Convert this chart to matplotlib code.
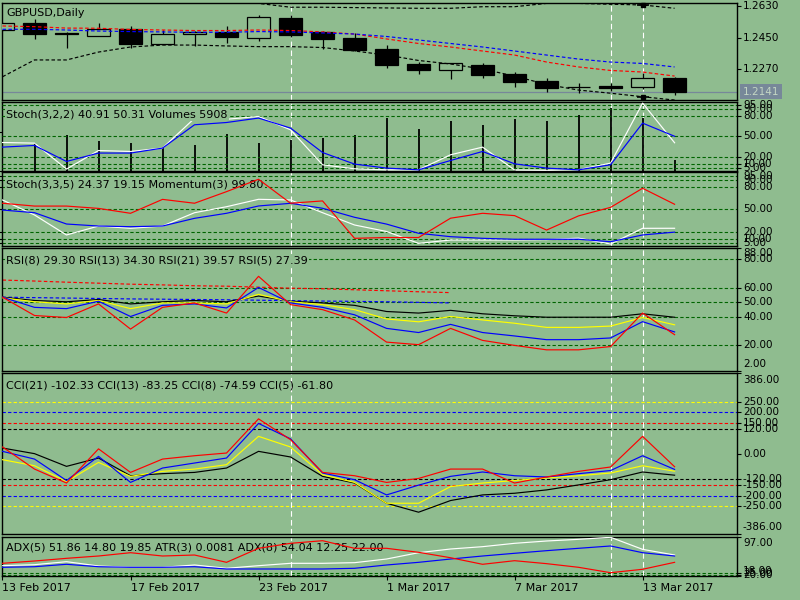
import numpy as np
import matplotlib
matplotlib.use('Agg')
import matplotlib.pyplot as plt

BG = '#8fbc8f'
LVL = '#006400'
GREY = '#778899'

# ---------------- data ----------------
date_idx = [0, 4, 8, 12, 16, 20]
date_labels = ['13 Feb 2017', '17 Feb 2017', '23 Feb 2017', '1 Mar 2017', '7 Mar 2017', '13 Mar 2017']
marked_bars = [9, 19, 20]
fractal_bar = 20

opens  = [1.2493, 1.2535, 1.2478, 1.2460, 1.2499, 1.2411, 1.2468, 1.2480, 1.2449, 1.2560, 1.2481,
          1.2449, 1.2384, 1.2299, 1.2265, 1.2291, 1.2242, 1.2203, 1.2166, 1.2173, 1.2169, 1.2219]
highs  = [1.2540, 1.2556, 1.2480, 1.2531, 1.2516, 1.2493, 1.2489, 1.2516, 1.2579, 1.2579, 1.2489,
          1.2474, 1.2407, 1.2312, 1.2306, 1.2303, 1.2255, 1.2221, 1.2189, 1.2189, 1.2249, 1.2226]
lows   = [1.2485, 1.2443, 1.2388, 1.2460, 1.2388, 1.2411, 1.2402, 1.2420, 1.2432, 1.2455, 1.2383,
          1.2373, 1.2274, 1.2242, 1.2213, 1.2219, 1.2169, 1.2137, 1.2132, 1.2145, 1.2154, 1.2122]
closes = [1.2535, 1.2472, 1.2468, 1.2497, 1.2415, 1.2470, 1.2483, 1.2451, 1.2565, 1.2466, 1.2443,
          1.2379, 1.2293, 1.2265, 1.2304, 1.2238, 1.2198, 1.2163, 1.2166, 1.2163, 1.2217, 1.2141]

band_upper = [1.2680, 1.2675, 1.2670, 1.2665, 1.2655, 1.2645, 1.2645, 1.2645, 1.2645, 1.2623, 1.2623,
              1.2621, 1.2619, 1.2617, 1.2617, 1.2626, 1.2626, 1.2645, 1.2645, 1.2640, 1.2636, 1.2617]
band_lower = [1.2226, 1.2322, 1.2322, 1.2367, 1.2396, 1.2407, 1.2407, 1.2402, 1.2398, 1.2398, 1.2393,
              1.2373, 1.2350, 1.2319, 1.2299, 1.2270, 1.2230, 1.2182, 1.2150, 1.2132, 1.2112, 1.2093]
ma_red  = [1.2516, 1.2512, 1.2504, 1.2503, 1.2496, 1.2493, 1.2490, 1.2490, 1.2493, 1.2490, 1.2482,
           1.2470, 1.2442, 1.2416, 1.2396, 1.2373, 1.2350, 1.2310, 1.2282, 1.2262, 1.2253, 1.2230]
ma_blue = [1.2497, 1.2497, 1.2493, 1.2487, 1.2484, 1.2482, 1.2480, 1.2480, 1.2484, 1.2482, 1.2476,
           1.2470, 1.2456, 1.2436, 1.2416, 1.2396, 1.2373, 1.2350, 1.2327, 1.2310, 1.2302, 1.2282]

volumes = [20000, 14400, 18350, 15270, 14400, 12340, 13210, 19220, 14400, 16140, 16960,
           18710, 27240, 21430, 25550, 23490, 26570, 25550, 28630, 32230, 27340, 5908]
stoch1_main   = [41.3, 40.4, 2.8, 29.7, 28.3, 33.2, 76.4, 75.0, 79.0, 59.7, 9.0,
                 3.2, 1.7, 1.7, 23.5, 34.6, 1.5, 1.0, 2.0, 11.4, 98.4, 40.91]
stoch1_signal = [34.6, 37.0, 13.8, 26.0, 26.0, 33.2, 67.0, 70.3, 76.7, 62.2, 26.8,
                 10.0, 4.2, 1.7, 15.2, 28.3, 10.4, 4.2, 1.7, 9.0, 69.4, 50.31]

stoch2_main   = [62.6, 42.3, 15.3, 27.4, 24.3, 27.4, 45.4, 53.5, 63.5, 62.6, 45.4,
                 28.8, 20.0, 4.0, 8.5, 8.5, 8.5, 9.0, 11.0, 3.1, 24.3, 24.37]
stoch2_signal = [49.0, 45.4, 30.1, 27.4, 26.5, 27.4, 37.8, 44.6, 54.5, 58.1, 51.4,
                 39.2, 30.0, 17.6, 13.0, 10.8, 9.5, 9.5, 9.5, 6.2, 15.3, 19.15]
momentum = [99.84, 99.73, 99.73, 99.64, 99.45, 99.99, 99.84, 100.29, 100.77, 99.84, 99.93,
            98.48, 98.51, 98.51, 99.26, 99.45, 99.36, 98.80, 99.35, 99.68, 100.42, 99.80]

rsi5  = [53.6, 40.8, 39.4, 48.9, 31.3, 46.5, 49.6, 42.5, 68.2, 48.4, 44.9,
         37.7, 22.2, 20.4, 31.8, 23.4, 19.9, 16.8, 16.8, 19.1, 42.5, 27.39]
rsi8  = [53.6, 46.5, 45.6, 50.8, 40.1, 47.9, 48.9, 46.1, 60.4, 49.6, 46.5,
         41.3, 31.8, 28.9, 34.6, 28.9, 26.5, 23.9, 23.9, 25.1, 36.5, 29.30]
rsi13 = [53.2, 50.4, 48.9, 51.3, 45.6, 49.6, 49.6, 48.9, 55.6, 50.4, 48.4,
         44.9, 38.4, 36.4, 40.1, 37.7, 35.4, 32.5, 32.5, 33.4, 39.4, 34.30]
rsi21 = [53.6, 51.3, 50.4, 52.0, 48.9, 50.4, 51.3, 50.4, 54.4, 50.8, 49.6,
         47.9, 43.6, 42.5, 44.4, 42.0, 40.6, 39.6, 39.6, 39.6, 42.0, 39.57]
rsi_dash_red  = [65.6, 64.9, 64.1, 63.4, 62.7, 62.2, 61.6, 61.3, 60.6, 59.9, 59.5, 58.8, 58.1, 57.4, 56.8]
rsi_dash_blue = [53.6, 53.3, 53.0, 52.7, 52.4, 52.2, 52.0, 51.8, 51.5, 51.2, 50.9, 50.7, 50.4, 50.0, 49.6]

cci5  = [33, -73, -140, 24, -89, -25, -9, 4, 168, 68, -89,
         -105, -137, -118, -73, -73, -140, -111, -84, -63, 84, -61.80]
cci8  = [12, -25, -128, -12, -137, -68, -44, -20, 146, 72, -92,
         -124, -197, -150, -108, -87, -105, -111, -95, -80, -9, -74.59]
cci13 = [-28, -57, -133, -41, -108, -84, -73, -52, 84, 33, -100,
         -137, -237, -237, -157, -140, -128, -116, -105, -92, -57, -83.25]
cci21 = [28, 1, -60, -20, -105, -95, -89, -68, 12, -15, -108,
         -140, -237, -280, -224, -197, -189, -173, -149, -124, -87, -102.33]

adx_red   = [43.7, 48.4, 53.8, 58.5, 65.2, 58.5, 60.5, 45.7, 74.1, 84.2, 89.5,
             74.1, 74.1, 66.0, 55.0, 41.7, 49.0, 43.0, 35.6, 24.7, 31.6, 45.7]
adx_white = [38.9, 40.9, 47.0, 38.3, 35.6, 35.6, 40.3, 33.6, 38.9, 43.7, 43.7,
             45.0, 52.4, 65.2, 72.7, 77.4, 84.2, 88.9, 92.3, 96.4, 72.0, 60.5]
adx_blue  = [35.6, 36.8, 41.7, 36.8, 35.6, 35.6, 36.8, 32.2, 32.2, 32.2, 32.2,
             33.6, 40.3, 45.7, 52.4, 58.5, 64.0, 69.3, 74.1, 78.8, 65.2, 58.5]

stoch_levels = [95, 90, 80, 50, 20, 10, 5]
rsi_levels = [80, 60, 50, 40, 20]
cci_levels = [(250, '#ffff00'), (200, '#0000ff'), (150, '#ff0000'), (120, '#000000')]
adx_levels = [25, 20]

# ---------------- figure ----------------
x = np.arange(len(closes))
XMIN, XMAX = -0.0156, 22.95
fig = plt.figure(figsize=(8, 6), dpi=100, facecolor=BG)
DASH = (0, (3, 2))
LW = 0.85


def px_axes(top, bottom):
    ax = fig.add_axes([2 / 800, 1 - bottom / 600, 735 / 800, (bottom - top) / 600])
    ax.set_facecolor(BG)
    ax.set_xlim(XMIN, XMAX)
    for s in ax.spines.values():
        s.set_linewidth(1.0)
        s.set_color('black')
    ax.tick_params(axis='x', bottom=False, labelbottom=False)
    ax.yaxis.tick_right()
    ax.tick_params(axis='y', right=True, left=False, labelright=False, labelleft=False,
                   direction='out', length=3, width=0.8)
    return ax


def rlabels(ax, vals, dys=None):
    tr = ax.get_yaxis_transform()
    ax.set_yticks(vals)
    for k, v in enumerate(vals):
        dy = 0 if dys is None else dys[k]
        ax.annotate(f'{v:.2f}' if abs(v) >= 1 or v == 0 else f'{v:.2f}', xy=(1, v), xycoords=tr,
                    xytext=(6, dy), textcoords='offset pixels', ha='left', va='center',
                    fontsize=7.5, annotation_clip=False)


def title(ax, text, below, bbox=True, z=5):
    kw = {}
    if bbox:
        kw['bbox'] = dict(boxstyle='square,pad=0.12', fc=BG, ec='none')
    ax.annotate(text, xy=(0, 1), xycoords='axes fraction', xytext=(4, -below),
                textcoords='offset pixels', ha='left', va='baseline', fontsize=8,
                zorder=z, **kw)


def vmarks(ax):
    for b in marked_bars:
        ax.axvline(b, color='white', lw=0.8, ls=(0, (5, 3)), zorder=1.5)


def levels(ax, vals, color=LVL):
    for v in vals:
        ax.axhline(v, color=color, lw=0.8, ls=DASH, zorder=1)


# ---- main price chart ----
ax0 = px_axes(2.7, 100)
ax0.set_ylim(1.20933, 1.26489)
vmarks(ax0)
ax0.axhline(closes[-1], color=GREY, lw=0.9, zorder=1)
bottoms = [min(o, c) for o, c in zip(opens, closes)]
heights = [abs(c - o) for o, c in zip(opens, closes)]
fills = ['black' if c < o else BG for o, c in zip(opens, closes)]
ax0.vlines(x, lows, highs, color='black', lw=0.9, zorder=2.5)
ax0.bar(x, heights, width=0.72, bottom=bottoms, color=fills, edgecolor='black',
        linewidth=0.9, zorder=3)
ax0.plot(x, band_upper, color='black', lw=LW, ls=DASH, zorder=4)
ax0.plot(x, band_lower, color='black', lw=LW, ls=DASH, zorder=4)
ax0.plot(x, ma_red, color='#ff0000', lw=LW, ls=DASH, zorder=4)
ax0.plot(x, ma_blue, color='#0000ff', lw=LW, ls=DASH, zorder=4)
for band in (band_upper, band_lower):
    ax0.plot([fractal_bar], [band[fractal_bar]], marker='s', ms=3, color='black', zorder=5,
             clip_on=False)
    ax0.plot([fractal_bar], [band[fractal_bar]], marker='_', ms=8, mew=1.2, color='black',
             zorder=5, clip_on=False)
price_ticks = [1.2630, 1.2450, 1.2270]
ax0.set_yticks(price_ticks)
tr0 = ax0.get_yaxis_transform()
for v in price_ticks:
    ax0.annotate(f'{v:.4f}', xy=(1, v), xycoords=tr0, xytext=(6, 0), textcoords='offset pixels',
                 ha='left', va='center', fontsize=7.5, annotation_clip=False)
ax0.annotate(f'{closes[-1]:.4f}', xy=(1, closes[-1]), xycoords=tr0, xytext=(6, 0),
             textcoords='offset pixels', ha='left', va='center', fontsize=7.5, color='#c4d6c4',
             annotation_clip=False,
             bbox=dict(boxstyle='square,pad=0.25', fc=GREY, ec='none'))
title(ax0, 'GBPUSD,Daily', 13.3, bbox=False)

# ---- panel 1: Stoch(3,2,2) + Volumes ----
ax1v = px_axes(102, 171)
ax1v.set_ylim(0, 35450)
ax1v.tick_params(axis='y', right=False)
vmarks(ax1v)
ax1v.vlines(x, 0, volumes, color='black', lw=1.3, zorder=2)
ax1 = ax1v.twinx()
ax1.set_xlim(XMIN, XMAX)
ax1.set_ylim(0, 100)
for s in ax1.spines.values():
    s.set_visible(False)
ax1.tick_params(axis='y', right=True, left=False, labelright=False, labelleft=False,
                direction='out', length=3, width=0.8)
levels(ax1, stoch_levels)
ax1.plot(x, stoch1_main, color='white', lw=LW, zorder=3)
ax1.plot(x, stoch1_signal, color='#0000ff', lw=LW, zorder=3)
rlabels(ax1, stoch_levels)
title(ax1, 'Stoch(3,2,2) 40.91 50.31 Volumes 5908', 15.3, z=6)

# ---- panel 2: Stoch(3,3,5) + Momentum(3) ----
ax2 = px_axes(172.3, 246.3)
ax2.set_ylim(0, 100)
vmarks(ax2)
levels(ax2, stoch_levels)
ax2.plot(x, stoch2_main, color='white', lw=LW, zorder=3)
ax2.plot(x, stoch2_signal, color='#0000ff', lw=LW, zorder=3)
rlabels(ax2, stoch_levels)
title(ax2, 'Stoch(3,3,5) 24.37 19.15 Momentum(3) 99.80', 15.0, z=4)
ax2m = ax2.twinx()
ax2m.set_xlim(XMIN, XMAX)
ax2m.set_ylim(98.17, 101.04)
for s in ax2m.spines.values():
    s.set_visible(False)
ax2m.tick_params(axis='y', right=False, labelright=False)
ax2m.plot(x, momentum, color='#ff0000', lw=LW, zorder=3)

# ---- panel 3: RSI ----
ax3 = px_axes(248, 371)
ax3.set_ylim(2, 88)
vmarks(ax3)
levels(ax3, rsi_levels)
xd = np.arange(len(rsi_dash_red))
ax3.plot(xd, rsi_dash_red, color='#ff0000', lw=LW, ls=DASH, zorder=2)
ax3.plot(xd, rsi_dash_blue, color='#0000ff', lw=LW, ls=DASH, zorder=2)
ax3.plot(x, rsi21, color='black', lw=LW, zorder=3)
ax3.plot(x, rsi13, color='#ffff00', lw=LW, zorder=3)
ax3.plot(x, rsi8, color='#0000ff', lw=LW, zorder=3)
ax3.plot(x, rsi5, color='#ff0000', lw=LW, zorder=3)
rlabels(ax3, [88] + rsi_levels + [2], [-5, 0, 0, 0, 0, 0, 7])
title(ax3, 'RSI(8) 29.30 RSI(13) 34.30 RSI(21) 39.57 RSI(5) 27.39', 15.3, z=4)

# ---- panel 4: CCI ----
ax4 = px_axes(373, 534.3)
ax4.set_ylim(-386, 388)
vmarks(ax4)
for v, col in cci_levels:
    ax4.axhline(v, color=col, lw=0.8, ls=DASH, zorder=1)
    ax4.axhline(-v, color=col, lw=0.8, ls=DASH, zorder=1)
ax4.plot(x, cci21, color='black', lw=LW, zorder=3)
ax4.plot(x, cci13, color='#ffff00', lw=LW, zorder=3)
ax4.plot(x, cci8, color='#0000ff', lw=LW, zorder=3)
ax4.plot(x, cci5, color='#ff0000', lw=LW, zorder=3)
cci_ticks = [386, 250, 200, 150, 120, 0, -120, -150, -200, -250, -386]
rlabels(ax4, cci_ticks, [-7, 0, 0, 0, 0, 0, 0, 0, 0, 0, 7])
title(ax4, 'CCI(21) -102.33 CCI(13) -83.25 CCI(8) -74.59 CCI(5) -61.80', 15.3, bbox=False)

# ---- panel 5: ADX / ATR ----
ax5 = px_axes(537, 576)
ax5.set_ylim(18, 97)
vmarks(ax5)
levels(ax5, adx_levels)
ax5.plot(x, adx_white, color='white', lw=LW, zorder=3)
ax5.plot(x, adx_blue, color='#0000ff', lw=LW, zorder=3)
ax5.plot(x, adx_red, color='#ff0000', lw=LW, zorder=3)
rlabels(ax5, [97] + adx_levels + [18], [-6, 0, 0, 5])
title(ax5, 'ADX(5) 51.86 14.80 19.85 ATR(3) 0.0081 ADX(8) 54.04 12.25 22.00', 13.7, z=2.5)
ax5.set_xticks(date_idx)
ax5.set_xticklabels(date_labels, ha='left', fontsize=8)
ax5.tick_params(axis='x', bottom=True, labelbottom=True, length=3, width=0.8, pad=2,
                direction='out')

fig.savefig('out.png', dpi=100, facecolor=BG)
